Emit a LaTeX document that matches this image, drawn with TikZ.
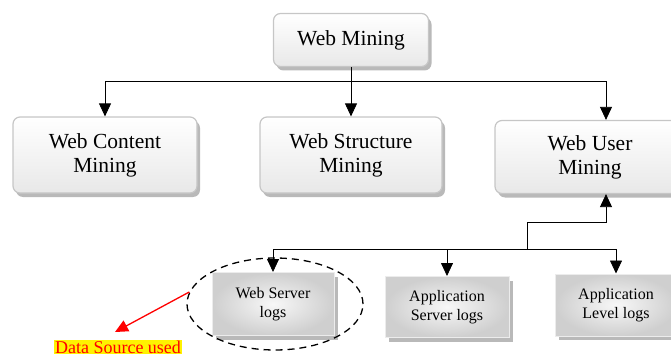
\documentclass[tikz,border=0pt]{standalone}
\usepackage{fontspec}
\setmainfont{Liberation Serif}
\usetikzlibrary{arrows.meta,shadows,shapes.geometric}
\tikzset{
  bigbox/.style={draw=gray!45, line width=1.2pt, rounded corners=7pt, top color=white, bottom color=gray!18,
    drop shadow={shadow xshift=3pt, shadow yshift=-4pt, fill=gray!55, opacity=1},
    align=center, font=\fontsize{21.5}{24}\selectfont},
  logbox/.style={draw=gray!15, line width=1pt, inner color=gray!6, outer color=gray!38,
    drop shadow={shadow xshift=4pt, shadow yshift=-4pt, fill=gray!55, opacity=1},
    align=center, font=\fontsize{16}{19}\selectfont},
  arr/.style={line width=0.8pt, -{Triangle[length=13pt,width=12pt]}},
  link/.style={line width=0.8pt}
}
\begin{document}
\begin{tikzpicture}[x=1pt, y=-1pt]
  \useasboundingbox (0,0) rectangle (671,358);
  \node[bigbox, minimum width=155, minimum height=53] (wm) at (351,40) {Web Mining};
  \node[bigbox, minimum width=184, minimum height=76] (wcm) at (105,155) {Web Content\\Mining};
  \node[bigbox, minimum width=182, minimum height=76] (wsm) at (351,155) {Web Structure\\Mining};
  \node[bigbox, minimum width=190, minimum height=73] (wum) at (590,157) {Web User\\Mining};
  \node[logbox, minimum width=122, minimum height=63] (wsl) at (273,304) {Web Server\\logs};
  \node[logbox, minimum width=124, minimum height=61] (asl) at (447,307) {Application\\Server logs};
  \node[logbox, minimum width=122, minimum height=62] (all) at (616,305) {Application\\Level logs};
  \draw[link] (wm.south) -- ++(0,14) coordinate (bus);
  \draw[arr] (bus) -| (wcm.north);
  \draw[arr] (bus) -- (wsm.north);
  \draw[arr] (bus) -| ([xshift=16pt]wum.north);
  \coordinate (hub) at (527,249);
  \coordinate (knee) at (527,222);
  \draw[arr] (hub) -- (knee) -| ([xshift=16pt]wum.south);
  \draw[arr] (hub) -| (wsl.north);
  \draw[arr] (hub) -| (asl.north);
  \draw[arr] (hub) -| (all.north);
  \node[draw, ellipse, dashed, dash pattern=on 7pt off 5pt, line width=1.3pt, minimum width=176, minimum height=92] (src) at (275,304) {};
  \node[fill=yellow, text=red, inner sep=1pt, font=\fontsize{18}{20}\selectfont] (lbl) at (118,347) {Data Source used};
  \coordinate (tip) at (115,332);
  \draw[red, line width=1.3pt, -{Triangle[length=13pt,width=12pt]}] (src.172) -- (tip);
\end{tikzpicture}
\end{document}
